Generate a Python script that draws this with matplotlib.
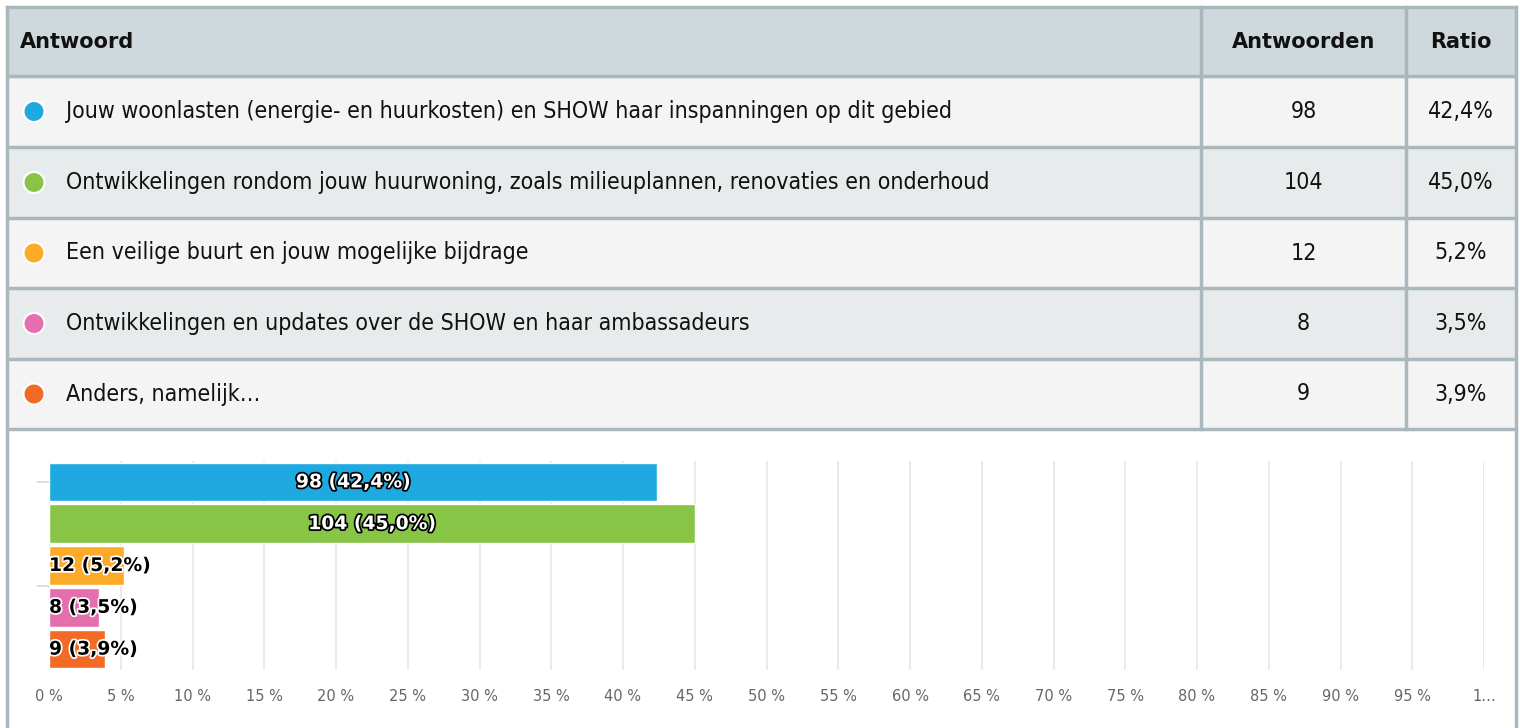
import matplotlib.pyplot as plt
import matplotlib.patheffects as pe
from matplotlib.patches import Rectangle, Circle

# Survey data
answers = [
    "Jouw woonlasten (energie- en huurkosten) en SHOW haar inspanningen op dit gebied",
    "Ontwikkelingen rondom jouw huurwoning, zoals milieuplannen, renovaties en onderhoud",
    "Een veilige buurt en jouw mogelijke bijdrage",
    "Ontwikkelingen en updates over de SHOW en haar ambassadeurs",
    "Anders, namelijk…",
]
counts = [98, 104, 12, 8, 9]
ratios = [42.4, 45.0, 5.2, 3.5, 3.9]
colors = ["#1fa9e1", "#88c547", "#fdaa29", "#e56fae", "#f26a26"]
headers = ["Antwoord", "Antwoorden", "Ratio"]
xticks = list(range(0, 101, 5))
xtick_labels = [f"{t} %" for t in xticks[:-1]] + ["1…"]

W, H = 1520, 728
fig = plt.figure(figsize=(W / 100, H / 100), dpi=100)
fig.patch.set_facecolor("white")

# table drawn in pixel coordinates
tab = fig.add_axes([0, 0, 1, 1])
tab.set_xlim(0, W)
tab.set_ylim(H, 0)
tab.axis("off")

border = "#aab8be"
font = ["DejaVu Sans"]
left, right = 7, 1516
col1, col2 = 1201, 1406
row_edges = [7, 76, 147, 218, 288, 359, 429]
row_bg = ["#cfd8dc", "#f4f4f4", "#e8ebec", "#f4f4f4", "#e8ebec", "#f4f4f4"]

for i in range(6):
    y0, y1 = row_edges[i], row_edges[i + 1]
    tab.add_patch(Rectangle((left, y0), right - left, y1 - y0, facecolor=row_bg[i], edgecolor="none"))
    tab.plot([left, right], [y1, y1], color=border, lw=2.5, solid_capstyle="butt")
tab.plot([left, right], [row_edges[0], row_edges[0]], color=border, lw=2.5)
tab.plot([left, left], [row_edges[0], H], color=border, lw=2.5)
tab.plot([right, right], [row_edges[0], H], color=border, lw=2.5)
for cx in (col1, col2):
    tab.plot([cx, cx], [row_edges[0], row_edges[-1]], color=border, lw=2.5)

hy = (row_edges[0] + row_edges[1]) / 2
tab.text(20, hy, headers[0], fontsize=15, fontweight="bold", family=font, va="center", ha="left", color="#111")
tab.text((col1 + col2) / 2, hy, headers[1], fontsize=15, fontweight="bold", family=font, va="center", ha="center", color="#111")
tab.text((col2 + right) / 2, hy, headers[2], fontsize=15, fontweight="bold", family=font, va="center", ha="center", color="#111")

for i, (a, c, r, col) in enumerate(zip(answers, counts, ratios, colors)):
    y = (row_edges[i + 1] + row_edges[i + 2]) / 2
    tab.add_patch(Circle((34, y), 10.5, facecolor=col, edgecolor="white", lw=1.5))
    tab.text(66, y, a, fontsize=16.6, fontstretch="condensed", family=font, va="center", ha="left", color="#111")
    tab.text((col1 + col2) / 2, y, str(c), fontsize=16.6, fontstretch="condensed", family=font,
             va="center", ha="center", color="#111")
    tab.text((col2 + right) / 2, y, f"{r:.1f}%".replace(".", ","), fontsize=16.6, fontstretch="condensed",
             family=font, va="center", ha="center", color="#111")

# bar chart
x0, x1 = 49, 1484
y_top, y_bot = 461, 670
ax = fig.add_axes([x0 / W, 1 - y_bot / H, (x1 - x0) / W, (y_bot - y_top) / H])
ax.set_xlim(0, 100)
ax.set_ylim(4.5, -0.5)
for s in ax.spines.values():
    s.set_visible(False)
ax.set_xticks(xticks)
ax.set_xticklabels(xtick_labels)
ax.tick_params(axis="x", length=0, pad=14, labelsize=10.5, labelcolor="#666666")
ax.set_yticks([0, 2.5])
ax.set_yticklabels([])
ax.tick_params(axis="y", length=9, color="#ccd6eb", width=1.2)
ax.grid(axis="x", color="#e6e6e6", lw=1.2)
ax.set_axisbelow(True)

ypos = list(range(len(counts)))
ax.barh(ypos, ratios, height=0.92, color=colors, edgecolor="white", lw=1)

for i, (c, r) in enumerate(zip(counts, ratios)):
    label = f"{c} ({r:.1f}%)".replace(".", ",")
    if r > 20:
        ax.text(r / 2, i, label, ha="center", va="center", fontsize=13.5, fontweight="bold", family=font,
                color="white", path_effects=[pe.withStroke(linewidth=2.5, foreground="black")])
    else:
        ax.text(0, i, label, ha="left", va="center", fontsize=13.5, fontweight="bold", family=font,
                color="black", path_effects=[pe.withStroke(linewidth=2.5, foreground="white")])

fig.savefig("out.png", dpi=100)
